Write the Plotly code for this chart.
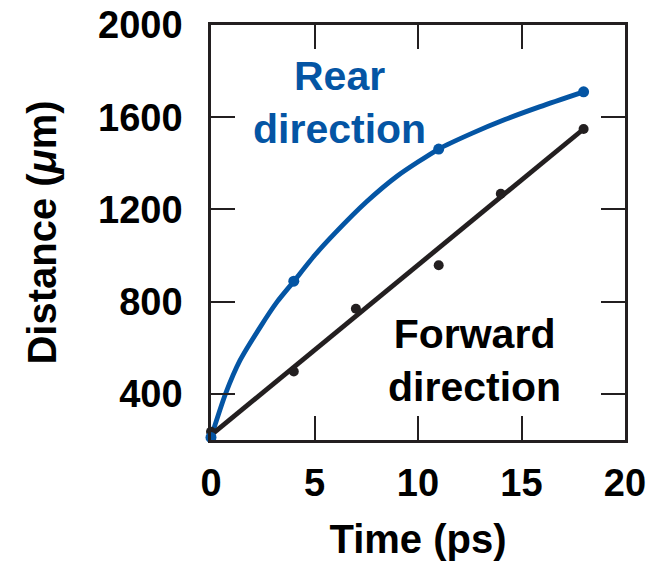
import plotly.graph_objects as go

# Measured points
rear_t = [0, 4, 11, 18]
rear_d = [211, 889, 1462, 1710]
fwd_t = [0, 4, 7, 11, 14, 18]
fwd_d = [236, 497, 769, 958, 1268, 1549]

# Fitted curves
rear_fit_t = [0, 0.7, 1.4, 2.4, 3.2, 4, 5, 6, 7.5, 9, 11, 12.6, 14.2, 15.9, 18]
rear_fit_d = [211, 400, 545, 693, 800, 888, 1000, 1098, 1232, 1345, 1462, 1530, 1590, 1646, 1710]
fwd_fit_t = [0, 18]
fwd_fit_d = [221, 1549]

x_ticks = [0, 5, 10, 15, 20]
y_ticks = [400, 800, 1200, 1600, 2000]

BLUE = "#0455a4"
DARK = "#231f20"
FONT = "Liberation Sans"

fig = go.Figure()
fig.add_trace(go.Scatter(x=rear_fit_t, y=rear_fit_d, mode="lines",
                         line=dict(color=BLUE, width=4.8, shape="spline", smoothing=0.6),
                         hoverinfo="skip", cliponaxis=False))
fig.add_trace(go.Scatter(x=fwd_fit_t, y=fwd_fit_d, mode="lines",
                         line=dict(color=DARK, width=4.8),
                         hoverinfo="skip", cliponaxis=False))
fig.add_trace(go.Scatter(x=fwd_t, y=fwd_d, mode="markers",
                         marker=dict(color=DARK, size=10), cliponaxis=False))
fig.add_trace(go.Scatter(x=rear_t, y=rear_d, mode="markers",
                         marker=dict(color=BLUE, size=11), cliponaxis=False))

axis_common = dict(
    showline=True, linecolor=DARK, linewidth=2.5, mirror="ticks",
    ticks="inside", ticklen=24, tickwidth=2.2, tickcolor=DARK,
    showgrid=False, zeroline=False, automargin=False,
    tickfont=dict(family=FONT, size=38, color="black", weight="bold"),
)

fig.update_xaxes(range=[0, 20], tickvals=x_ticks, ticktext=[str(v) for v in x_ticks],
                 ticklabelstandoff=8,
                 title=dict(text="<b>Time (ps)</b>", standoff=28,
                            font=dict(family=FONT, size=40, color="black")),
                 **axis_common)
fig.update_yaxes(range=[200, 2000], tickvals=y_ticks, ticktext=[str(v) for v in y_ticks],
                 ticklabelstandoff=18,
                 title=dict(text="<b>Distance (<i>μ</i>m)</b>", standoff=30,
                            font=dict(family=FONT, size=40, color="black")),
                 **axis_common)

fig.add_annotation(x=6.23, y=1663, xref="x", yref="y",
                   text="<b>Rear<br>direction</b>", showarrow=False, align="center",
                   font=dict(family=FONT, size=41, color=BLUE))
fig.add_annotation(x=12.75, y=543, xref="x", yref="y",
                   text="<b>Forward<br>direction</b>", showarrow=False, align="center",
                   font=dict(family=FONT, size=41, color="black"))

fig.update_layout(
    width=656, height=561,
    margin=dict(l=211, r=31, t=25, b=121),
    paper_bgcolor="white", plot_bgcolor="white",
    showlegend=False,
)

fig.write_html("out.html")
